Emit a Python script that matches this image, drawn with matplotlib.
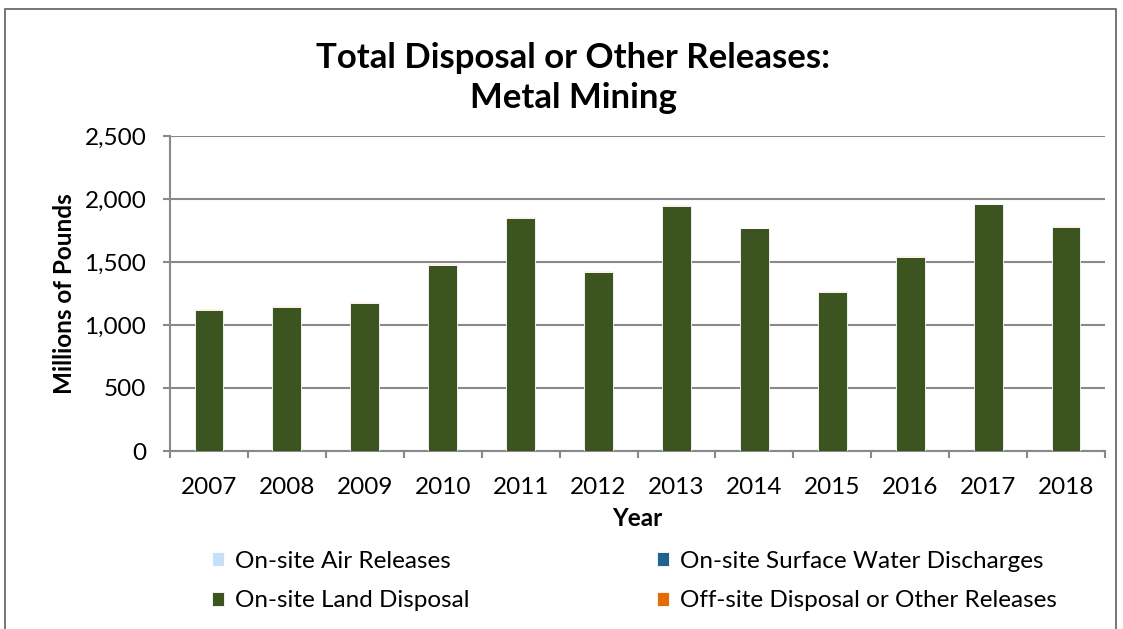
import matplotlib
matplotlib.use("Agg")
import matplotlib.pyplot as plt
from matplotlib.patches import Rectangle
import numpy as np

years = ["2007", "2008", "2009", "2010", "2011", "2012",
         "2013", "2014", "2015", "2016", "2017", "2018"]
air = [2, 2, 2, 2, 2, 2, 2, 2, 2, 2, 2, 2]
water = [1, 1, 1, 1, 1, 1, 1, 1, 1, 1, 1, 1]
land = [1119, 1141, 1170, 1471, 1850, 1417, 1940, 1763, 1261, 1536, 1954, 1774]
offsite = [6, 6, 6, 7, 7, 7, 7, 7, 7, 7, 7, 7]

series_names = ["On-site Air Releases", "On-site Surface Water Discharges",
                "On-site Land Disposal", "Off-site Disposal or Other Releases"]
colors = ["#C6E0F8", "#1F6391", "#3B5420", "#E36C09"]

plt.rcParams['font.family'] = ['Lato', 'DejaVu Sans']

W, H = 1123, 629
fig = plt.figure(figsize=(W / 100, H / 100), dpi=100)
ax = fig.add_axes([170 / W, 1 - 451 / H, (1105 - 170) / W, (451 - 136) / H])

x = np.arange(len(years))
bottom = np.zeros(len(years))
handles = []
for vals, name, col in zip([air, water, land, offsite], series_names, colors):
    b = ax.bar(x, vals, width=0.37, bottom=bottom, color=col,
               edgecolor="white", linewidth=0.6, label=name, zorder=3)
    handles.append(b)
    bottom = bottom + np.array(vals)

ax.set_xlim(-0.5, len(years) - 0.5)
ax.set_ylim(0, 2500)
ax.set_yticks(np.arange(0, 2501, 500))
ax.set_yticklabels([f"{v:,}" for v in range(0, 2501, 500)], fontsize=17.5)
ax.set_xticks(x)
ax.set_xticklabels(years, fontsize=17.5)
ax.set_xticks(np.arange(-0.5, len(years), 1), minor=True)
ax.tick_params(axis="x", which="major", length=0, pad=19)
ax.tick_params(axis="x", which="minor", length=5, color="#898989", width=1.5)
ax.tick_params(axis="y", length=5, color="#898989", width=1.5, pad=12)

ax.grid(axis="y", color="#898989", linewidth=1.5, zorder=0)
for s in ["top", "right"]:
    ax.spines[s].set_visible(False)
for s in ["left", "bottom"]:
    ax.spines[s].set_color("#898989")
    ax.spines[s].set_linewidth(1.5)

ax.set_ylabel("Millions of Pounds", fontsize=17.5, fontweight="bold", labelpad=6)
ax.set_xlabel("Year", fontsize=17.5, fontweight="bold", labelpad=6)

fig.text(573 / W, 1 - 78 / H, "Total Disposal or Other Releases:\nMetal Mining",
         ha="center", va="center", fontsize=25, fontweight="bold", linespacing=1.32)

leg_kw = dict(frameon=False, fontsize=17.5, handlelength=0.5, handleheight=0.5,
              handletextpad=0.45, labelspacing=0.76, borderpad=0, borderaxespad=0,
              loc="upper left")
leg1 = fig.legend(handles=[handles[0], handles[2]],
                  labels=[series_names[0], series_names[2]],
                  bbox_to_anchor=(212 / W, 1 - 551 / H), **leg_kw)
leg2 = fig.legend(handles=[handles[1], handles[3]],
                  labels=[series_names[1], series_names[3]],
                  bbox_to_anchor=(657 / W, 1 - 551 / H), **leg_kw)

fig.patches.append(Rectangle((5 / W, -0.1), (1116 - 5) / W, 1.1 - 9 / H,
                             transform=fig.transFigure, fill=False,
                             edgecolor="#5f5f5f", linewidth=1.2))

fig.savefig("out.png", dpi=100)
